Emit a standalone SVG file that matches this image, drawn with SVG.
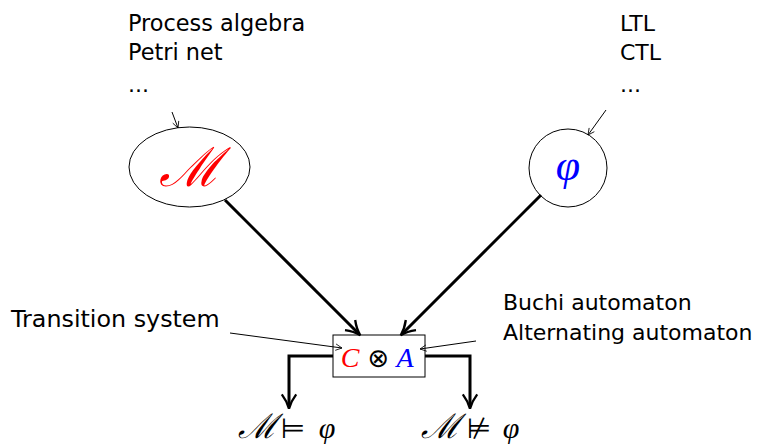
<svg xmlns="http://www.w3.org/2000/svg" width="758" height="445" viewBox="0 0 758 445">
<defs>
<style>
.t{font-family:"DejaVu Sans","Liberation Sans",sans-serif;font-size:22px;fill:#000}
.m{font-family:"DejaVu Serif","Liberation Serif",serif;font-style:italic}
.s{font-family:"Liberation Serif","DejaVu Serif",serif;font-style:italic}
.thin{stroke:#000;stroke-width:1;fill:none}
.thick{stroke:#000;stroke-width:3;fill:none}
</style>
<marker id="ah" viewBox="0 0 10 10" refX="9" refY="5" markerWidth="8" markerHeight="8" markerUnits="userSpaceOnUse" orient="auto"><path d="M1,1 L9,5 L1,9" fill="none" stroke="#000" stroke-width="1"/></marker>
<marker id="ahb" viewBox="0 0 10 10" refX="8" refY="5" markerWidth="6" markerHeight="6" orient="auto"><path d="M1,1 Q5,4 9,5 Q5,6 1,9" fill="none" stroke="#000" stroke-width="1.3"/></marker>
</defs>
<rect width="758" height="445" fill="#fff"/>
<g id="model-sources">
<text class="t" x="128" y="31" style="font-size:22.4px">Process algebra</text>
<text class="t" x="128" y="60" style="font-size:22.4px">Petri net</text>
<text class="t" x="128" y="92">...</text>
</g>
<g id="logic-sources">
<text class="t" x="620" y="31">LTL</text>
<text class="t" x="620" y="60">CTL</text>
<text class="t" x="620" y="92">...</text>
</g>
<g id="node-M">
<ellipse cx="189.5" cy="167" rx="60.5" ry="40" class="thin"/>
<text x="189.5" y="186" text-anchor="middle" class="m" font-size="54" fill="#f00">ℳ</text>
</g>
<g id="node-phi">
<circle cx="568" cy="168" r="39" class="thin"/>
<text x="568" y="180" text-anchor="middle" class="s" font-size="44" fill="#00f">φ</text>
</g>
<g id="node-product">
<rect x="333" y="335" width="92" height="42" fill="#fff" stroke="#000" stroke-width="1"/>
<text x="350" y="367" text-anchor="middle" class="s" font-size="28" fill="#f00">C</text>
<text x="378.5" y="367" text-anchor="middle" font-family="DejaVu Sans,sans-serif" font-size="26" fill="#000">⊗</text>
<text x="405" y="367" text-anchor="middle" class="s" font-size="28" fill="#00f">A</text>
</g>
<g id="label-ts">
<text class="t" x="11" y="327" style="font-size:23.8px">Transition system</text>
</g>
<g id="label-automata">
<text class="t" x="503" y="310">Buchi automaton</text>
<text class="t" x="503" y="340">Alternating automaton</text>
</g>
<g id="result-sat">
<text x="257" y="438" text-anchor="middle" class="m" font-size="34" fill="#000">ℳ</text>
<text x="293" y="438" text-anchor="middle" font-family="DejaVu Sans,sans-serif" font-size="28" fill="#000">⊨</text>
<text x="327" y="438" text-anchor="middle" class="s" font-size="30" fill="#000">φ</text>
</g>
<g id="result-unsat">
<text x="440" y="438" text-anchor="middle" class="m" font-size="34" fill="#000">ℳ</text>
<text x="479" y="438" text-anchor="middle" font-family="DejaVu Sans,sans-serif" font-size="28" fill="#000">⊭</text>
<text x="511" y="438" text-anchor="middle" class="s" font-size="30" fill="#000">φ</text>
</g>
<g id="connectors">
<line x1="172" y1="112" x2="178" y2="128" class="thin" marker-end="url(#ah)"/>
<line x1="606" y1="110" x2="588" y2="135" class="thin" marker-end="url(#ah)"/>
<line x1="225" y1="200" x2="359" y2="334" class="thick" marker-end="url(#ahb)"/>
<line x1="541" y1="195" x2="402" y2="334" class="thick" marker-end="url(#ahb)"/>
<line x1="230" y1="333" x2="342" y2="348" class="thin" marker-end="url(#ah)"/>
<line x1="476" y1="341" x2="420" y2="349" class="thin" marker-end="url(#ah)"/>
<polyline points="333,356 289,356 289,407" class="thick" marker-end="url(#ahb)"/>
<polyline points="425,356 470,356 470,407" class="thick" marker-end="url(#ahb)"/>
</g>
</svg>
